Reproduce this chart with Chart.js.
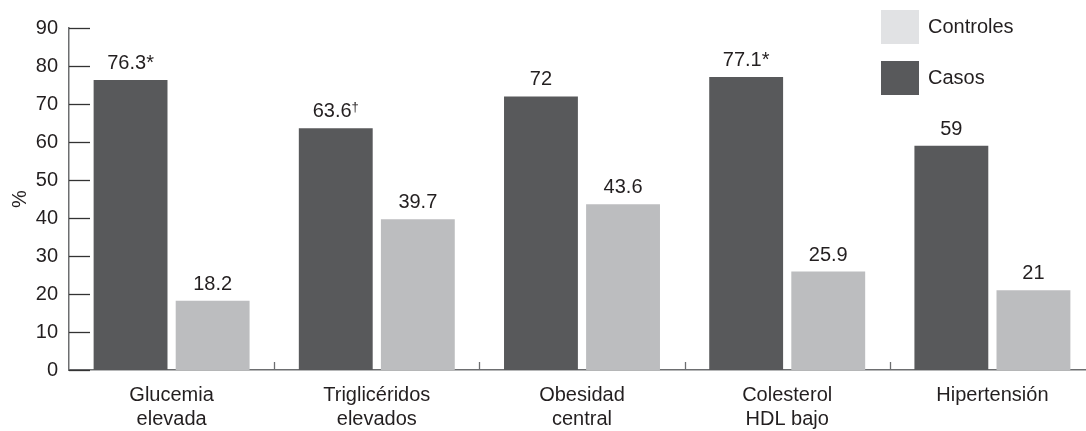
<!DOCTYPE html>
<html>
<head>
<meta charset="utf-8">
<script src="https://cdn.jsdelivr.net/npm/chart.js@4"></script>
<style>
  html, body { margin: 0; padding: 0; background: #fff; overflow: hidden; }
  #wrap { position: relative; width: 1086px; height: 431px; overflow: hidden; }
  #legend { position: absolute; left: 881px; top: 10px; font-family: "Liberation Sans", Arial, sans-serif; font-size: 20px; color: #231f20; }
  .item { position: relative; height: 34px; margin-bottom: 17px; }
  .box { position: absolute; left: 0; top: 0; width: 38px; height: 34px; }
  .txt { position: absolute; left: 47px; top: 5px; white-space: nowrap; }
</style>
</head>
<body>
<div id="wrap">
  <canvas id="myChart" width="1095" height="431"></canvas>
  <div id="legend">
    <div class="item"><div class="box" style="background:#e1e2e4"></div><div class="txt">Controles</div></div>
    <div class="item"><div class="box" style="background:#58595b"></div><div class="txt">Casos</div></div>
  </div>
</div>
<script>
const categories = [['Glucemia', 'elevada'], ['Triglicéridos', 'elevados'], ['Obesidad', 'central'], ['Colesterol', 'HDL bajo'], ['Hipertensión']];
const casos = [76.3, 63.6, 72, 77.1, 59];
const controles = [18.2, 39.7, 43.6, 25.9, 21];
const casosMarks = ['*', '†', '', '*', ''];
const controlesMarks = ['', '', '', '', ''];
const yTicks = [0, 10, 20, 30, 40, 50, 60, 70, 80, 90];

const font = '"Liberation Sans", Arial, sans-serif';
const ink = '#231f20';
const axisColor = '#6d6e70';

// tick marks inside the plot + value labels over the bars
const extras = {
    id: 'extras',
    afterDraw(chart) {
        const c = chart.ctx;
        const area = chart.chartArea;
        const y = chart.scales.y;
        const x = chart.scales.x;
        c.save();
        c.strokeStyle = '#333';
        c.lineWidth = 1.3;
        y.ticks.forEach(t => {
            const py = Math.round(y.getPixelForValue(t.value)) + 0.5;
            c.beginPath();
            c.moveTo(area.left, py);
            c.lineTo(area.left + 21, py);
            c.stroke();
        });
        c.strokeStyle = axisColor;
        for (let i = 1; i < categories.length; i++) {
            const px = Math.round((x.getPixelForValue(i - 1) + x.getPixelForValue(i)) / 2) + 0.5;
            c.beginPath();
            c.moveTo(px, area.bottom);
            c.lineTo(px, area.bottom - 8);
            c.stroke();
        }
        c.fillStyle = ink;
        c.textBaseline = 'alphabetic';
        const marks = [casosMarks, controlesMarks];
        chart.data.datasets.forEach((ds, di) => {
            chart.getDatasetMeta(di).data.forEach((bar, i) => {
                const num = String(ds.data[i]);
                const mark = marks[di][i];
                const by = bar.y - 11;
                c.font = '20px ' + font;
                const wNum = c.measureText(num).width;
                let wMark = 0;
                if (mark === '†') {
                    c.font = '13px ' + font;
                    wMark = c.measureText(mark).width;
                } else if (mark) {
                    wMark = c.measureText(mark).width;
                }
                let sx = bar.x - (wNum + wMark) / 2;
                c.textAlign = 'left';
                c.font = '20px ' + font;
                c.fillText(num, sx, by);
                if (mark === '†') {
                    c.font = '13px ' + font;
                    c.fillText(mark, sx + wNum, by - 6);
                } else if (mark) {
                    c.fillText(mark, sx + wNum, by);
                }
            });
        });
        c.restore();
    }
};

const ctx = document.getElementById('myChart').getContext('2d');
const myChart = new Chart(ctx, {
    type: 'bar',
    data: {
        labels: categories,
        datasets: [{
            label: 'Casos',
            data: casos,
            backgroundColor: '#58595b',
            barPercentage: 0.9,
            categoryPercentage: 0.8
        }, {
            label: 'Controles',
            data: controles,
            backgroundColor: '#bcbdbf',
            barPercentage: 0.9,
            categoryPercentage: 0.8
        }]
    },
    options: {
        responsive: false,
        animation: false,
        devicePixelRatio: 1,
        layout: { padding: { top: 28, right: 0, left: 0, bottom: 0 } },
        plugins: { legend: { display: false }, tooltip: { enabled: false } },
        scales: {
            x: {
                grid: { display: false, drawTicks: false },
                border: { display: true, color: axisColor, width: 1.5 },
                ticks: { color: ink, font: { family: font, size: 20, lineHeight: 1.2 }, padding: 13, maxRotation: 0, autoSkip: false },
                afterFit(s) { s.height = 61; }
            },
            y: {
                min: 0,
                max: 90,
                afterBuildTicks(s) { s.ticks = yTicks.map(v => ({ value: v })); },
                grid: { display: false, drawTicks: false },
                border: { display: true, color: axisColor, width: 1.5 },
                ticks: { color: ink, font: { family: font, size: 20 }, padding: 11 },
                title: { display: true, text: '%', color: ink, font: { family: font, size: 20 }, padding: { top: 8, bottom: 4 } },
                afterFit(s) { s.width = 69; }
            }
        }
    },
    plugins: [extras]
});
</script>
</body>
</html>
